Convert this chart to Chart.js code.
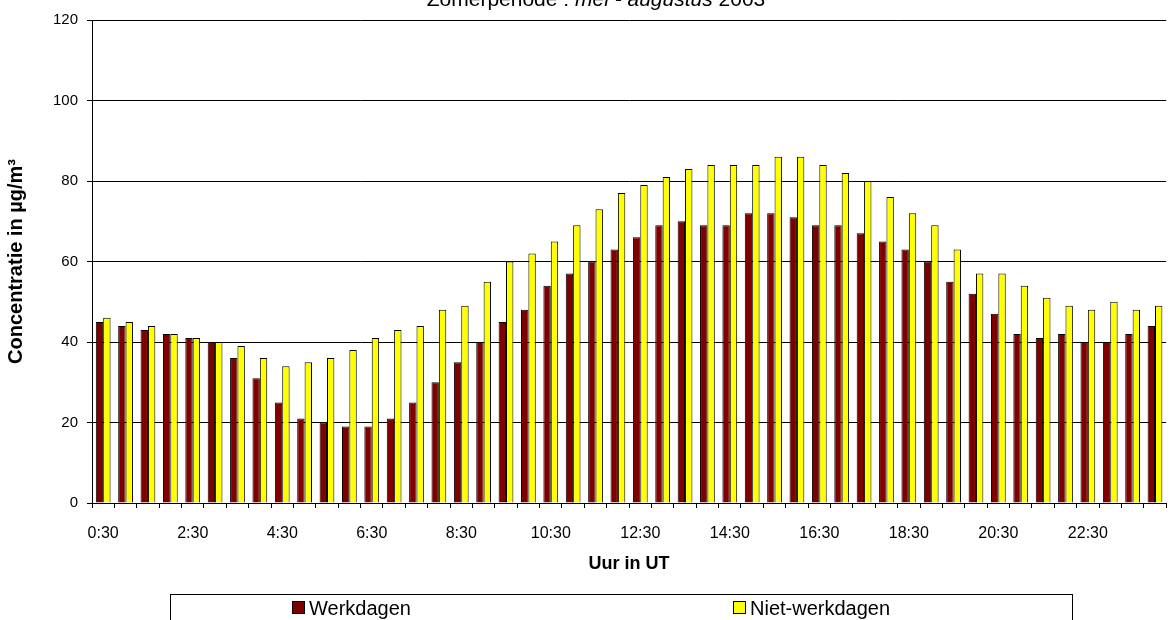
<!DOCTYPE html>
<html>
<head>
<meta charset="utf-8">
<script src="https://cdn.jsdelivr.net/npm/chart.js@4.4.1/dist/chart.umd.min.js"></script>
<style>
  html, body { margin: 0; padding: 0; background: #ffffff; }
  #wrap { width: 1171px; height: 620px; position: relative; }
</style>
</head>
<body>
<div id="wrap"><canvas id="c" width="1171" height="620"></canvas></div>
<script>
const categories = ['0:30','1:00','1:30','2:00','2:30','3:00','3:30','4:00','4:30','5:00','5:30','6:00',
  '6:30','7:00','7:30','8:00','8:30','9:00','9:30','10:00','10:30','11:00','11:30','12:00',
  '12:30','13:00','13:30','14:00','14:30','15:00','15:30','16:00','16:30','17:00','17:30','18:00',
  '18:30','19:00','19:30','20:00','20:30','21:00','21:30','22:00','22:30','23:00','23:30','24:00'];
const werkdagen = [45,44,43,42,41,40,36,31,25,21,20,19,19,21,25,30,35,40,45,48,54,57,60,63,
  66,69,70,69,69,72,72,71,69,69,67,65,63,60,55,52,47,42,41,42,40,40,42,44];
const nietWerkdagen = [46,45,44,42,41,40,39,36,34,35,36,38,41,43,44,48,49,55,60,62,65,69,73,77,
  79,81,83,84,84,84,86,86,84,82,80,76,72,69,63,57,57,54,51,49,48,50,48,49];
const yTicks = [0,20,40,60,80,100,120];
const titleText = ['Zomerperiode : ', 'mei - augustus', ' 2003'];
const yTitle = 'Concentratie in µg/m³';
const xTitle = 'Uur in UT';
const seriesNames = ['Werkdagen', 'Niet-werkdagen'];

const FONT = "'Liberation Sans', Arial, sans-serif";

const topTitlePlugin = {
  id: 'topTitle',
  afterDraw(chart) {
    const ctx = chart.ctx;
    ctx.save();
    ctx.fillStyle = '#000';
    ctx.textBaseline = 'alphabetic';
    const fonts = ['21px ' + FONT, 'italic 21px ' + FONT, '21px ' + FONT];
    let total = 0;
    const widths = titleText.map((t, i) => { ctx.font = fonts[i]; const w = ctx.measureText(t).width; total += w; return w; });
    let x = 596 - total / 2;
    titleText.forEach((t, i) => { ctx.font = fonts[i]; ctx.textAlign = 'left'; ctx.fillText(t, x, 6); x += widths[i]; });
    ctx.restore();
  }
};

const boxLegendPlugin = {
  id: 'boxLegend',
  afterDraw(chart) {
    const ctx = chart.ctx;
    ctx.save();
    ctx.strokeStyle = '#000';
    ctx.lineWidth = 1;
    ctx.strokeRect(170.5, 594.5, 902, 40);
    const xs = [292, 733];
    ctx.font = '20px ' + FONT;
    ctx.textBaseline = 'middle';
    ctx.textAlign = 'left';
    chart.data.datasets.forEach((ds, i) => {
      ctx.fillStyle = ds.backgroundColor;
      ctx.fillRect(xs[i] + 0.5, 601.5, 12, 12);
      ctx.strokeStyle = '#000';
      ctx.strokeRect(xs[i] + 0.5, 601.5, 12, 12);
      ctx.fillStyle = '#000';
      ctx.fillText(ds.label, xs[i] + 17, 609);
    });
    ctx.restore();
  }
};

new Chart(document.getElementById('c'), {
  type: 'bar',
  data: {
    labels: categories,
    datasets: [
      { label: seriesNames[0], data: werkdagen, backgroundColor: '#800000', borderColor: '#000', borderWidth: 1,
        categoryPercentage: 0.66, barPercentage: 1.0 },
      { label: seriesNames[1], data: nietWerkdagen, backgroundColor: '#FFFF00', borderColor: '#000', borderWidth: 1,
        categoryPercentage: 0.66, barPercentage: 1.0 }
    ]
  },
  options: {
    responsive: false,
    animation: false,
    devicePixelRatio: 1,
    layout: { padding: { top: 20, left: 0, right: 0, bottom: 42 } },
    plugins: {
      legend: { display: false },
      title: { display: false },
      tooltip: { enabled: false }
    },
    scales: {
      x: {
        grid: { drawOnChartArea: false, drawTicks: true, tickLength: 5, color: '#000', offset: true },
        border: { color: '#000', width: 1 },
        ticks: {
          autoSkip: false, maxRotation: 0, minRotation: 0, padding: 16,
          color: '#000', font: { family: FONT, size: 16 },
          callback: function(v, i) { return i % 4 === 0 ? categories[i] : ''; }
        },
        title: { display: true, text: xTitle, color: '#000', font: { family: FONT, size: 18, weight: 'bold' }, padding: { top: 0, bottom: 3 } },
        afterFit(scale) { scale.height = 75; }
      },
      y: {
        min: 0, max: 120,
        afterBuildTicks(scale) { scale.ticks = yTicks.map(v => ({ value: v })); },
        grid: { color: '#000', lineWidth: 1, tickLength: 5, drawTicks: true },
        border: { color: '#000', width: 1 },
        ticks: { color: '#000', font: { family: FONT, size: 15 }, padding: 9 },
        title: { display: true, text: yTitle, color: '#000', font: { family: FONT, size: 20, weight: 'bold' }, padding: { top: 4, bottom: 0 } },
        afterFit(scale) { scale.width = 92; }
      }
    }
  },
  plugins: [topTitlePlugin, boxLegendPlugin]
});
</script>
</body>
</html>
